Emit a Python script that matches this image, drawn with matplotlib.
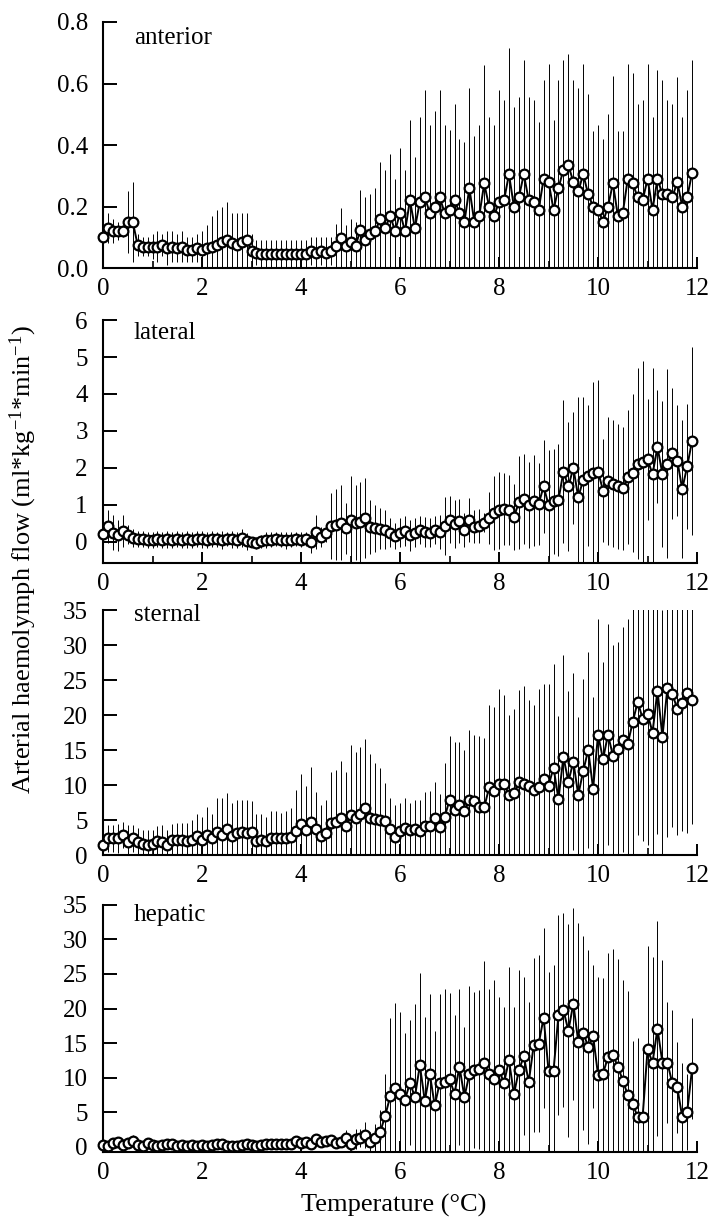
import numpy as np
import matplotlib
matplotlib.use('Agg')
import matplotlib.pyplot as plt
from matplotlib.ticker import MultipleLocator, FormatStrFormatter

plt.rcParams['font.family'] = ['Liberation Serif', 'DejaVu Serif']
plt.rcParams['mathtext.fontset'] = 'custom'
plt.rcParams['mathtext.rm'] = 'Liberation Serif'
plt.rcParams['mathtext.it'] = 'Liberation Serif:italic'

# temperature steps 0.0 ... 11.9 degC
temp = np.arange(120) / 10.0

anterior_mean = [
    0.10, 0.13, 0.12, 0.12, 0.12, 0.15, 0.15, 0.075, 0.07, 0.07,
    0.07, 0.07, 0.075, 0.065, 0.07, 0.065, 0.07, 0.06, 0.06, 0.065,
    0.06, 0.065, 0.07, 0.075, 0.085, 0.09, 0.08, 0.075, 0.085, 0.09,
    0.055, 0.05, 0.045, 0.045, 0.045, 0.045, 0.045, 0.045, 0.045, 0.045,
    0.045, 0.045, 0.055, 0.05, 0.055, 0.05, 0.055, 0.072, 0.097, 0.072,
    0.085, 0.072, 0.124, 0.09, 0.11, 0.12, 0.16, 0.13, 0.17, 0.12,
    0.18, 0.12, 0.22, 0.13, 0.215, 0.23, 0.18, 0.20, 0.23, 0.18,
    0.19, 0.22, 0.18, 0.15, 0.26, 0.15, 0.17, 0.275, 0.20, 0.17,
    0.215, 0.22, 0.305, 0.20, 0.23, 0.305, 0.22, 0.215, 0.19, 0.29,
    0.28, 0.19, 0.26, 0.32, 0.335, 0.28, 0.25, 0.305, 0.24, 0.20,
    0.19, 0.15, 0.20, 0.275, 0.17, 0.18, 0.29, 0.275, 0.23, 0.22,
    0.29, 0.19, 0.29, 0.24, 0.24, 0.23, 0.28, 0.20, 0.23, 0.31]
anterior_top = [
    0.19, 0.18, 0.16, 0.15, 0.14, 0.25, 0.28, 0.11, 0.10, 0.10,
    0.11, 0.12, 0.11, 0.12, 0.12, 0.11, 0.12, 0.10, 0.10, 0.11,
    0.12, 0.14, 0.17, 0.19, 0.20, 0.215, 0.18, 0.18, 0.18, 0.18,
    0.11, 0.09, 0.09, 0.09, 0.09, 0.09, 0.09, 0.09, 0.09, 0.09,
    0.09, 0.09, 0.10, 0.10, 0.10, 0.10, 0.10, 0.144, 0.195, 0.14,
    0.16, 0.15, 0.255, 0.23, 0.24, 0.26, 0.345, 0.32, 0.37, 0.29,
    0.39, 0.32, 0.48, 0.36, 0.49, 0.58, 0.465, 0.51, 0.58, 0.465,
    0.45, 0.535, 0.42, 0.41, 0.585, 0.43, 0.465, 0.66, 0.49, 0.465,
    0.58, 0.545, 0.715, 0.525, 0.555, 0.675, 0.555, 0.545, 0.475, 0.61,
    0.665, 0.48, 0.61, 0.675, 0.695, 0.61, 0.585, 0.665, 0.565, 0.445,
    0.465, 0.42, 0.50, 0.625, 0.445, 0.445, 0.665, 0.635, 0.535, 0.545,
    0.665, 0.49, 0.645, 0.61, 0.545, 0.535, 0.62, 0.49, 0.58, 0.675]

lateral_mean = [
    0.22, 0.42, 0.25, 0.18, 0.30, 0.20, 0.10, 0.08, 0.08, 0.06,
    0.06, 0.08, 0.06, 0.07, 0.06, 0.08, 0.06, 0.07, 0.06, 0.08,
    0.07, 0.06, 0.08, 0.07, 0.06, 0.08, 0.07, 0.06, 0.10, 0.02,
    0.00, -0.02, 0.02, 0.05, 0.06, 0.08, 0.06, 0.04, 0.06, 0.08,
    0.06, 0.08, 0.00, 0.27, 0.14, 0.23, 0.43, 0.46, 0.52, 0.37,
    0.59, 0.52, 0.55, 0.64, 0.40, 0.37, 0.36, 0.33, 0.25, 0.15,
    0.25, 0.29, 0.18, 0.25, 0.32, 0.27, 0.25, 0.32, 0.27, 0.43,
    0.60, 0.48, 0.57, 0.32, 0.60, 0.41, 0.43, 0.52, 0.65, 0.78,
    0.86, 0.89, 0.87, 0.67, 1.07, 1.16, 1.00, 1.12, 1.03, 1.50,
    1.00, 1.10, 1.14, 1.90, 1.50, 2.00, 1.21, 1.68, 1.79, 1.86,
    1.90, 1.39, 1.66, 1.57, 1.50, 1.45, 1.75, 1.87, 2.12, 2.16,
    2.23, 1.83, 2.57, 1.83, 2.12, 2.40, 2.20, 1.43, 2.04, 2.74]
lateral_top = [
    0.60, 0.86, 0.73, 0.60, 0.73, 0.45, 0.35, 0.30, 0.30, 0.28,
    0.28, 0.30, 0.28, 0.30, 0.28, 0.30, 0.28, 0.30, 0.28, 0.30,
    0.30, 0.28, 0.30, 0.28, 0.30, 0.28, 0.30, 0.28, 0.34, 0.25,
    0.14, 0.14, 0.20, 0.27, 0.27, 0.27, 0.27, 0.27, 0.27, 0.27,
    0.27, 0.27, 0.30, 0.73, 0.41, 0.45, 1.32, 1.42, 1.54, 1.06,
    1.77, 1.54, 1.63, 1.72, 1.14, 1.00, 0.91, 0.86, 0.64, 0.50,
    0.65, 0.70, 0.60, 0.65, 0.70, 0.68, 0.65, 0.70, 0.72, 1.22,
    1.24, 1.13, 1.17, 0.77, 1.20, 0.86, 0.90, 0.77, 1.35, 1.77,
    1.90, 1.86, 1.81, 1.57, 2.32, 2.38, 2.17, 2.35, 2.14, 2.75,
    2.48, 2.52, 2.66, 3.83, 3.24, 3.51, 3.92, 3.92, 3.69, 4.32,
    4.38, 2.79, 3.39, 3.29, 3.20, 3.11, 3.56, 4.00, 4.71, 4.90,
    3.87, 4.71, 4.10, 3.80, 4.68, 4.17, 3.69, 3.29, 3.72, 5.28]

sternal_mean = [
    1.43, 2.4, 2.4, 2.4, 2.86, 1.9, 2.4, 1.9, 1.6, 1.43,
    1.6, 2.0, 1.9, 1.43, 2.2, 2.2, 2.2, 2.0, 2.2, 2.7,
    2.2, 2.86, 2.4, 3.33, 2.86, 3.67, 2.7, 3.1, 3.33, 3.1,
    3.33, 2.0, 2.2, 2.0, 2.5, 2.4, 2.5, 2.4, 2.6, 3.5,
    4.5, 3.57, 4.76, 3.67, 2.7, 3.1, 4.6, 4.76, 5.24, 4.14,
    5.7, 5.24, 5.86, 6.67, 5.24, 5.1, 5.0, 4.9, 3.67, 2.6,
    3.4, 3.8, 3.57, 3.67, 3.5, 4.14, 4.14, 5.24, 4.0, 5.38,
    7.9, 6.48, 7.2, 6.3, 7.9, 7.76, 6.8, 6.8, 9.67, 9.1,
    10.2, 10.2, 8.6, 8.8, 10.5, 10.1, 9.9, 9.3, 9.67, 10.9,
    9.9, 12.5, 8.0, 14.0, 10.5, 13.3, 8.6, 12.0, 15.0, 9.5,
    17.2, 13.7, 17.2, 14.2, 15.1, 16.5, 15.9, 19.0, 21.9, 19.5,
    20.2, 17.5, 23.5, 16.9, 23.8, 23.0, 20.9, 21.7, 23.1, 22.2]
sternal_top = [
    2.6, 4.3, 4.3, 4.5, 4.76, 4.3, 4.3, 3.8, 3.57, 3.57,
    3.6, 4.14, 4.3, 3.6, 4.5, 4.6, 4.6, 4.6, 5.0, 5.8,
    5.5, 6.9, 5.8, 8.1, 8.2, 8.9, 7.38, 7.9, 7.9, 7.8,
    7.76, 5.8, 5.9, 5.5, 6.33, 6.33, 6.0, 6.33, 6.67, 9.3,
    11.6, 9.9, 12.6, 9.0, 7.2, 7.9, 11.9, 12.2, 13.5, 11.9,
    15.7, 14.76, 15.4, 16.6, 14.5, 13.1, 12.4, 10.3, 8.1, 7.1,
    7.38, 8.1, 7.38, 7.86, 7.86, 9.05, 9.2, 10.5, 8.7, 13.2,
    17.0, 16.2, 16.2, 15.0, 17.9, 17.1, 17.0, 16.7, 21.4, 21.2,
    23.7, 22.9, 20.0, 20.8, 23.6, 24.1, 22.1, 21.4, 23.7, 24.5,
    24.5, 27.3, 19.9, 28.6, 23.5, 25.95, 19.76, 25.2, 29.0, 22.6,
    33.7, 27.6, 33.0, 30.0, 30.5, 32.6, 33.7, 38.0, 41.0, 37.0,
    39.0, 36.0, 44.0, 35.0, 45.0, 42.0, 39.0, 40.0, 43.0, 40.0]

hepatic_mean = [
    0.3, 0.2, 0.6, 0.7, 0.3, 0.6, 0.9, 0.3, 0.2, 0.6,
    0.3, 0.2, 0.3, 0.4, 0.4, 0.2, 0.3, 0.2, 0.3, 0.2,
    0.3, 0.2, 0.3, 0.5, 0.4, 0.2, 0.2, 0.2, 0.3, 0.4,
    0.3, 0.2, 0.3, 0.5, 0.4, 0.4, 0.5, 0.5, 0.5, 0.8,
    0.6, 0.7, 0.5, 1.1, 0.7, 0.9, 1.0, 0.6, 0.7, 1.35,
    0.5, 1.2, 1.35, 1.7, 0.7, 1.35, 2.2, 4.5, 7.3, 8.5,
    7.7, 6.85, 9.26, 7.24, 11.8, 6.7, 10.6, 6.0, 9.2, 9.4,
    9.75, 7.72, 11.6, 7.24, 10.5, 11.1, 11.2, 12.1, 10.5, 9.75,
    11.1, 9.26, 12.55, 7.6, 11.1, 13.1, 9.4, 14.7, 14.9, 18.7,
    11.0, 11.0, 19.06, 19.8, 16.8, 20.7, 15.2, 16.5, 14.5, 16.0,
    10.4, 10.6, 13.0, 13.3, 11.6, 9.6, 7.5, 6.2, 4.35, 4.35,
    14.1, 12.2, 17.1, 12.2, 12.2, 9.2, 8.6, 4.35, 5.07, 11.34]
hepatic_top = [
    0.6, 0.5, 1.0, 1.1, 0.6, 1.0, 1.7, 0.6, 0.5, 1.0,
    0.6, 0.5, 0.6, 0.8, 0.8, 0.5, 0.6, 0.5, 0.6, 0.5,
    0.6, 0.5, 0.6, 0.9, 0.8, 0.5, 0.5, 0.5, 0.6, 0.8,
    0.6, 0.5, 0.6, 0.9, 0.8, 0.8, 0.9, 0.9, 0.9, 1.3,
    1.0, 1.1, 0.9, 1.8, 1.1, 1.4, 1.5, 1.0, 1.1, 2.5,
    1.3, 2.65, 2.65, 3.6, 2.2, 3.3, 5.3, 10.6, 18.6, 20.8,
    19.5, 16.5, 18.3, 20.7, 25.1, 18.8, 22.1, 16.8, 22.1, 22.9,
    22.2, 19.06, 22.9, 17.4, 23.2, 22.4, 22.7, 26.9, 22.9, 24.1,
    21.7, 20.3, 25.96, 20.3, 25.6, 24.5, 21.0, 27.3, 27.7, 31.7,
    25.3, 26.3, 33.5, 33.8, 32.2, 34.6, 32.3, 30.5, 28.5, 26.3,
    24.6, 24.4, 28.0, 28.6, 27.1, 24.1, 22.6, 15.3, 15.8, 13.8,
    29.0, 27.4, 32.6, 27.0, 21.0, 19.8, 15.2, 12.2, 10.6, 18.6]

names = ['anterior', 'lateral', 'sternal', 'hepatic']
means = [anterior_mean, lateral_mean, sternal_mean, hepatic_mean]
tops = [anterior_top, lateral_top, sternal_top, hepatic_top]
ylims = [(0, 0.8), (-0.57, 6), (0, 35), (-0.72, 35)]
ysteps = [0.2, 1, 5, 5]
yfmt = ['%.1f', '%d', '%d', '%d']
# axes boxes in figure fractions [left, bottom, width, height]
boxes = [[0.1443, 0.7819, 0.832, 0.2002],
         [0.1443, 0.5419, 0.832, 0.1977],
         [0.1443, 0.3043, 0.832, 0.1993],
         [0.1443, 0.0627, 0.832, 0.2011]]
label_y = [0.935, 0.946, 0.98, 0.96]

fig = plt.figure(figsize=(7.14, 12.29), dpi=100)

for i in range(4):
    ax = fig.add_axes(boxes[i])
    m = np.array(means[i])
    err = np.abs(np.array(tops[i]) - m)
    ax.errorbar(temp, m, yerr=err, fmt='none', ecolor='black',
                elinewidth=0.7, capsize=0, zorder=1)
    ax.plot(temp, m, '-o', color='black', lw=1.4, ms=7, mfc='white',
            mec='black', mew=1.6, clip_on=False, zorder=3)
    ax.set_xlim(0, 12)
    ax.set_ylim(*ylims[i])
    ax.xaxis.set_major_locator(MultipleLocator(2))
    ax.xaxis.set_minor_locator(MultipleLocator(1))
    ax.yaxis.set_major_locator(MultipleLocator(ysteps[i]))
    ax.yaxis.set_major_formatter(FormatStrFormatter(yfmt[i]))
    ax.spines['top'].set_visible(False)
    ax.spines['right'].set_visible(False)
    ax.spines['left'].set_linewidth(1.5)
    ax.spines['bottom'].set_linewidth(1.5)
    ax.tick_params(axis='x', which='major', direction='in', length=8,
                   width=1.4, labelsize=18, pad=7)
    ax.tick_params(axis='x', which='minor', direction='in', length=5,
                   width=1.2)
    ax.tick_params(axis='y', which='major', direction='in', length=10,
                   width=1.4, labelsize=18, pad=11)
    ax.text(0.052, label_y[i], names[i], transform=ax.transAxes,
            fontsize=18, va='center', ha='left')

fig.text(0.033, 0.545,
         'Arterial haemolymph flow (ml*kg$^{-1}$*min$^{-1}$)',
         rotation=90, fontsize=19, va='center', ha='center')
fig.text(0.552, 0.0195, 'Temperature (\u00b0C)', fontsize=19,
         va='center', ha='center')

fig.savefig('out.png', dpi=100)
